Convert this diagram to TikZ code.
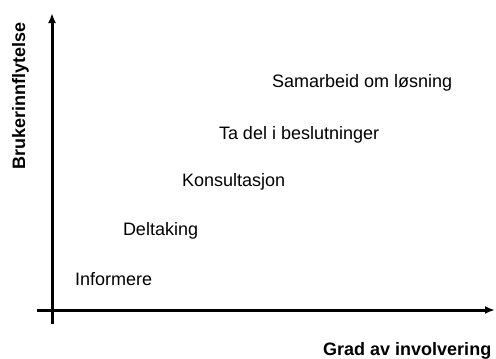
\documentclass[tikz,border=0pt]{standalone}
\usepackage{fontspec}
\setmainfont{Liberation Sans}
\usepackage{tikz}
\usetikzlibrary{arrows.meta}
\tikzset{trinn/.style={anchor = base west, inner sep = 0pt, outer sep = 0pt, font = \fontsize{18}{20}\selectfont}}
\tikzset{akse/.style={line width = 3pt, -{Latex[length=10pt,width=8pt]}}}
\tikzset{aksetekst/.style={inner sep = 0pt, font = \fontsize{18}{20}\selectfont\bfseries}}

\begin{document}
\begin{tikzpicture}[x=1pt,y=-1pt]
\useasboundingbox (0,0) rectangle (496,359);
\coordinate (ybunn) at (52,324) ;
\coordinate (ytopp) at (52,13) ;
\coordinate (xstart) at (37,310) ;
\coordinate (xslutt) at (495,310) ;
\draw[akse] (ybunn)--(ytopp) ;
\draw[akse] (xstart)--(xslutt) ;
\node[aksetekst, rotate=90, anchor=base west] (bruker) at (25,170) {Brukerinnflytelse} ;
\node[aksetekst, anchor=base west] (grad) at (323,355) {Grad av involvering} ;
\foreach \x/\y/\navn/\tekst in {75/285/informere/Informere, 123/235/deltaking/Deltaking, 182/186/konsultasjon/Konsultasjon, 219/139/tadel/Ta del i beslutninger, 272/87/samarbeid/Samarbeid om løsning}
{
        \node[trinn] (\navn) at (\x,\y) {\tekst} ;
}
\end{tikzpicture}
\end{document}
